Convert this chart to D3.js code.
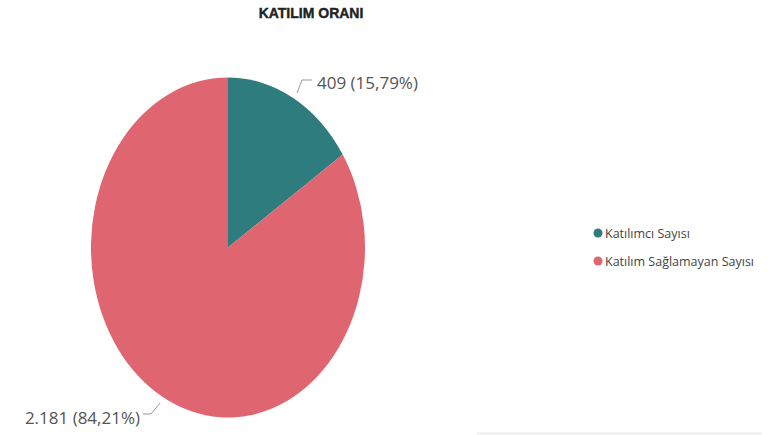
<!DOCTYPE html>
<html><head><meta charset="utf-8">
<script src="https://cdn.jsdelivr.net/npm/d3@7"></script>
<style>body{margin:0;background:#fff}svg{display:block}</style>
</head><body>
<svg id="c" width="772" height="435"></svg>
<script>
const title = "KATILIM ORANI";
const categories = ["Katılımcı Sayısı", "Katılım Sağlamayan Sayısı"];
const values = [409, 2181];
const valueLabels = ["409", "2.181"];
const percentLabels = ["15,79%", "84,21%"];
const colors = ["#2F7C7E", "#DF6670"];

const svg = d3.select("#c");
const cx = 228, cy = 247.5, rx = 137, ry = 170;

svg.append("text").attr("x", 311).attr("y", 18).attr("text-anchor", "middle")
  .attr("font-family", "'Liberation Sans Narrow','Arial Narrow',sans-serif")
  .attr("font-weight", "bold").attr("font-size", 14).attr("fill", "#222")
  .attr("stroke", "#222").attr("stroke-width", 0.4).text(title);

const pie = d3.pie().sort(null).value(d => d);
const arcs = pie(values);
const arc = d3.arc().innerRadius(0).outerRadius(rx);
const g = svg.append("g").attr("transform", `translate(${cx},${cy}) scale(1,${ry/rx})`);
g.selectAll("path").data(arcs).join("path").attr("d", arc).attr("fill", (d, i) => colors[i]);

const font = "'Open Sans','Segoe UI',sans-serif";
const lab = svg.append("g");
lab.append("polyline").attr("points", "297,93 302,80 312,80").attr("fill", "none").attr("stroke", "#999").attr("stroke-width", 1);
lab.append("text").attr("x", 317).attr("y", 89).attr("font-family", font).attr("font-size", 17)
  .attr("fill", "#555").text(`${valueLabels[0]} (${percentLabels[0]})`);
lab.append("polyline").attr("points", "160,403 151,414 143,414").attr("fill", "none").attr("stroke", "#999").attr("stroke-width", 1);
lab.append("text").attr("x", 140).attr("y", 424).attr("text-anchor", "end").attr("font-family", font).attr("font-size", 17)
  .attr("fill", "#555").text(`${valueLabels[1]} (${percentLabels[1]})`);

const lg = svg.append("g");
categories.forEach((c, i) => {
  const y = 233 + i * 28;
  lg.append("circle").attr("cx", 598).attr("cy", y).attr("r", 4.5).attr("fill", colors[i]);
  lg.append("text").attr("x", 605).attr("y", y + 4.5).attr("font-family", font).attr("font-size", 12.5)
    .attr("fill", "#444").text(c);
});

svg.append("line").attr("x1", 477).attr("x2", 762).attr("y1", 433.5).attr("y2", 433.5).attr("stroke", "#eee").attr("stroke-width", 2);
</script>
</body></html>
